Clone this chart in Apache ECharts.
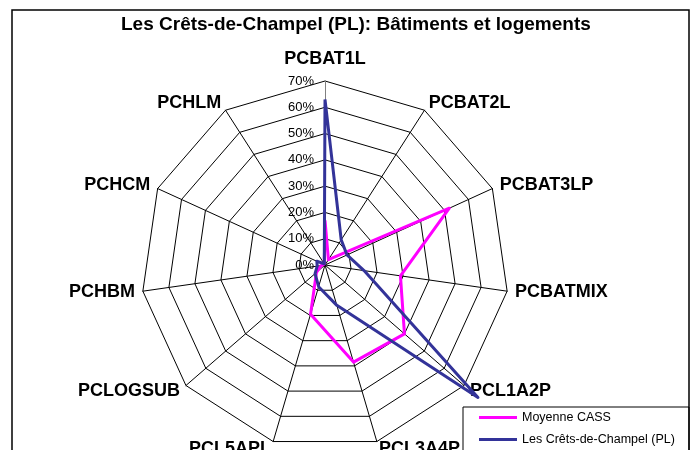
<!DOCTYPE html>
<html>
<head>
<meta charset="utf-8">
<script src="https://cdn.jsdelivr.net/npm/echarts@6/dist/echarts.min.js"></script>
<style>
  html, body { margin: 0; padding: 0; background: #fff; }
  #chart { width: 697px; height: 450px; }
</style>
</head>
<body>
<div id="chart"></div>
<script>
// indicators, clockwise from the top
var categories = ['PCBAT1L', 'PCBAT2L', 'PCBAT3LP', 'PCBATMIX', 'PCL1A2P', 'PCL3A4P',
  'PCL5APL', 'PCLOGSUB', 'PCHBM', 'PCHCM', 'PCHLM']
var seriesNames = ['Moyenne CASS', 'Les Crêts-de-Champel (PL)']
// values in %
var moyenneCass = [17, 2.4, 52, 29, 40, 38.5, 19.5, 4.3, 1.5, 0.5, 0.5]
var cretsChampel = [63, 11.4, 9.2, 15, 77, 16, 8.6, 5, 3, 3.4, 0.5]
var axisMax = 70
var axisSplits = 7

var font = '"Liberation Sans", Arial, sans-serif'

// echarts lays radar indicators out counter-clockwise, so flip all but the first
function clockwise(arr) {
  return [arr[0]].concat(arr.slice(1).reverse())
}

var chart = echarts.init(document.getElementById('chart'))

var indicators = clockwise(categories).map(function(name, i) {
  var ind = { name: name, max: axisMax, min: 0 }
  if (i === 0) {
    // only the first axis carries the % labels
    ind.axisLabel = {
      show: true,
      formatter: '{value}%',
      fontSize: 13,
      fontFamily: font,
      color: '#000',
      margin: 11
    }
    ind.axisLine = { lineStyle: { color: '#808080', width: 1 } }
    ind.nameTextStyle = { padding: [0, 0, 5, 0] }
  }
  return ind
})

chart.setOption({
  backgroundColor: '#fff',
  animation: false,
  title: {
    text: 'Les Crêts-de-Champel (PL): Bâtiments et logements',
    left: 121,
    top: 15,
    padding: 0,
    textStyle: {
      fontFamily: font,
      fontSize: 19,
      fontWeight: 'bold',
      color: '#000'
    }
  },
  legend: {
    data: seriesNames,
    orient: 'vertical',
    left: 479,
    top: 411,
    padding: 0,
    itemWidth: 38,
    itemHeight: 3,
    itemGap: 9,
    icon: 'rect',
    textStyle: { fontFamily: font, fontSize: 12.5, color: '#000' }
  },
  radar: {
    center: [325, 265],
    radius: 184,
    startAngle: 90,
    shape: 'polygon',
    splitNumber: axisSplits,
    nameGap: 8,
    axisName: {
      color: '#000',
      fontFamily: font,
      fontSize: 18,
      fontWeight: 'bold'
    },
    splitLine: { lineStyle: { color: '#000', width: 1 } },
    splitArea: { show: false },
    axisLine: { lineStyle: { color: '#000', width: 1 } },
    axisTick: { show: false },
    indicator: indicators
  },
  graphic: [
    {
      type: 'rect',
      shape: { x: 12, y: 10, width: 677, height: 460 },
      style: { fill: 'none', stroke: '#000', lineWidth: 1.5 },
      silent: true
    },
    {
      type: 'rect',
      shape: { x: 463, y: 407, width: 226, height: 60 },
      style: { fill: '#fff', stroke: '#000', lineWidth: 1 },
      z: -1,
      silent: true
    }
  ],
  series: [
    {
      name: seriesNames[0],
      type: 'radar',
      symbol: 'none',
      lineStyle: { color: '#ff00ff', width: 3 },
      itemStyle: { color: '#ff00ff' },
      data: [{ value: clockwise(moyenneCass), name: seriesNames[0] }]
    },
    {
      name: seriesNames[1],
      type: 'radar',
      symbol: 'none',
      lineStyle: { color: '#333399', width: 3 },
      itemStyle: { color: '#333399' },
      data: [{ value: clockwise(cretsChampel), name: seriesNames[1] }]
    }
  ]
})
</script>
</body>
</html>
